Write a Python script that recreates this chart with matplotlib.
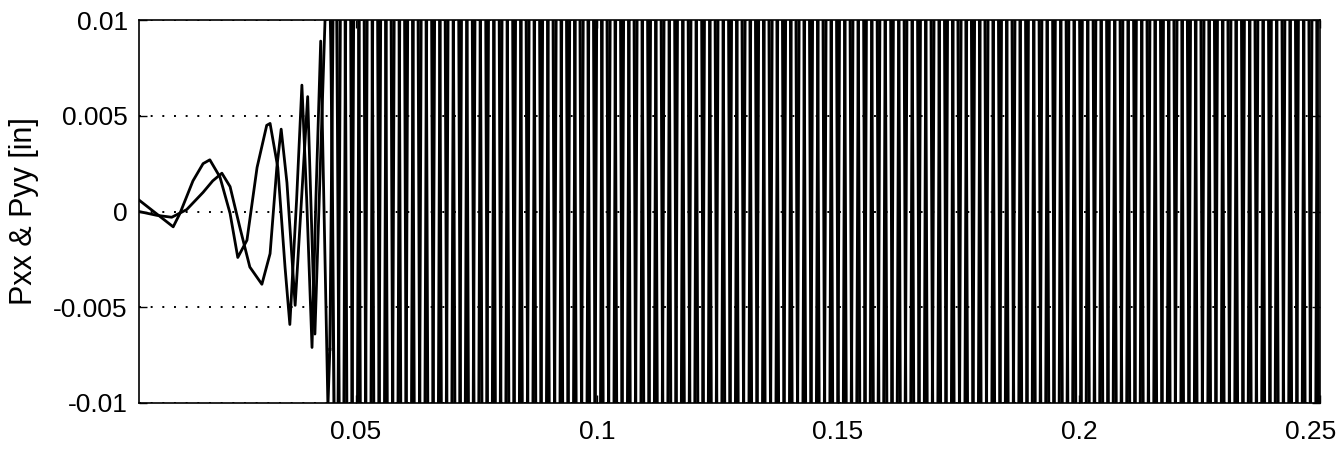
import numpy as np
import matplotlib.pyplot as plt
import matplotlib.transforms as mtransforms

plt.rcParams['font.family'] = ['Liberation Sans', 'DejaVu Sans']

# run-up part: turning points and a few in-between points
# time [s], displacement [in]
t_xx = [0.0050, 0.0121, 0.0135, 0.0162, 0.0183, 0.0197, 0.0218, 0.0239, 0.0255,
        0.0274, 0.0295, 0.0315, 0.0322, 0.0338, 0.0353, 0.0363, 0.0377, 0.0388,
        0.0398, 0.0409, 0.0417, 0.0427, 0.0442]
p_xx = [0.0006, -0.0008, -0.0001, 0.0016, 0.0025, 0.0027, 0.0018, -0.0001, -0.0024,
        -0.0015, 0.0023, 0.0045, 0.0046, 0.0023, -0.0029, -0.0059, 0.0006, 0.0066,
        0.0006, -0.0071, 0.0006, 0.0089, -0.0102]

t_yy = [0.0050, 0.0087, 0.0118, 0.0149, 0.0183, 0.0203, 0.0222, 0.0239, 0.0259,
        0.0280, 0.0305, 0.0322, 0.0336, 0.0345, 0.0357, 0.0374, 0.0400, 0.0415,
        0.0436]
p_yy = [0.0000, -0.0002, -0.0003, 0.0001, 0.0010, 0.0016, 0.0020, 0.0013, -0.0008,
        -0.0029, -0.0038, -0.0022, 0.0023, 0.0043, 0.0015, -0.0049, 0.0060, -0.0064,
        0.0100]

# steady part: cycles are far too dense to read one by one, so only the
# period, swing, x/y lag and the wandering centre band are estimated
period = 0.0028
lag = 0.00025
swing_t = [0.0445, 0.0480, 0.2500]
swing_v = [0.011, 0.030, 0.030]
band_t = [0.045, 0.062, 0.074, 0.097, 0.121, 0.134, 0.146, 0.160, 0.177,
          0.195, 0.212, 0.222, 0.240, 0.250]
band_v = [0.0, -0.0013, 0.0016, -0.0022, 0.0010, -0.0022, -0.0011, 0.0016, -0.0022,
          0.0013, 0.0006, -0.0019, 0.0004, -0.0013]

x_ticks = [0.05, 0.1, 0.15, 0.2, 0.25]
x_labels = ['0.05', '0.1', '0.15', '0.2', '0.25']
y_ticks = [-0.01, -0.005, 0, 0.005, 0.01]
y_labels = ['-0.01', '-0.005', '0', '0.005', '0.01']

t_run = np.arange(0.0446, 0.2502, 0.0001)
amp = np.interp(t_run, swing_t, swing_v)
mid = np.interp(t_run, band_t, band_v)
xx_run = mid - amp * np.cos(2 * np.pi * (t_run - t_xx[-1]) / period)
yy_run = mid + amp * np.cos(2 * np.pi * (t_run - t_xx[-1] - lag) / period)

fig = plt.figure(figsize=(13.44, 4.55), dpi=100)
ax = fig.add_axes([0.1034, 0.1143, 0.8787, 0.8417])

# Pxx and Pyy: slow run-up drawn a bit thinner than the dense steady part
ax.plot(t_xx + [t_run[0]], p_xx + [xx_run[0]], color='black', linewidth=2.0)
ax.plot(t_yy + [t_run[0]], p_yy + [yy_run[0]], color='black', linewidth=2.0)
ax.plot(t_run, xx_run, color='black', linewidth=2.2)
ax.plot(t_run, yy_run, color='black', linewidth=2.2)

ax.set_xlim(0.005, 0.25)
ax.set_ylim(-0.01, 0.01)
ax.set_xticks(x_ticks)
ax.set_xticklabels(x_labels)
ax.set_yticks(y_ticks)
ax.set_yticklabels(y_labels)
ax.tick_params(direction='in', length=6, width=1, top=True, right=True, labelsize=19)
ax.tick_params(axis='x', pad=12)
ax.tick_params(axis='y', pad=8)
ax.set_axisbelow(True)
ax.grid(True, axis='y', color='black', linestyle=(0, (1, 5)), linewidth=1.4)
for s in ax.spines.values():
    s.set_linewidth(1.2)

# keep the last x label inside the figure, like the reference
last = ax.get_xticklabels()[-1]
last.set_transform(last.get_transform() +
                   mtransforms.ScaledTranslation(-9 / 100, 0, fig.dpi_scale_trans))

ax.set_ylabel('Pxx & Pyy [in]', fontsize=22, labelpad=10)

fig.savefig('out.png', dpi=100)
